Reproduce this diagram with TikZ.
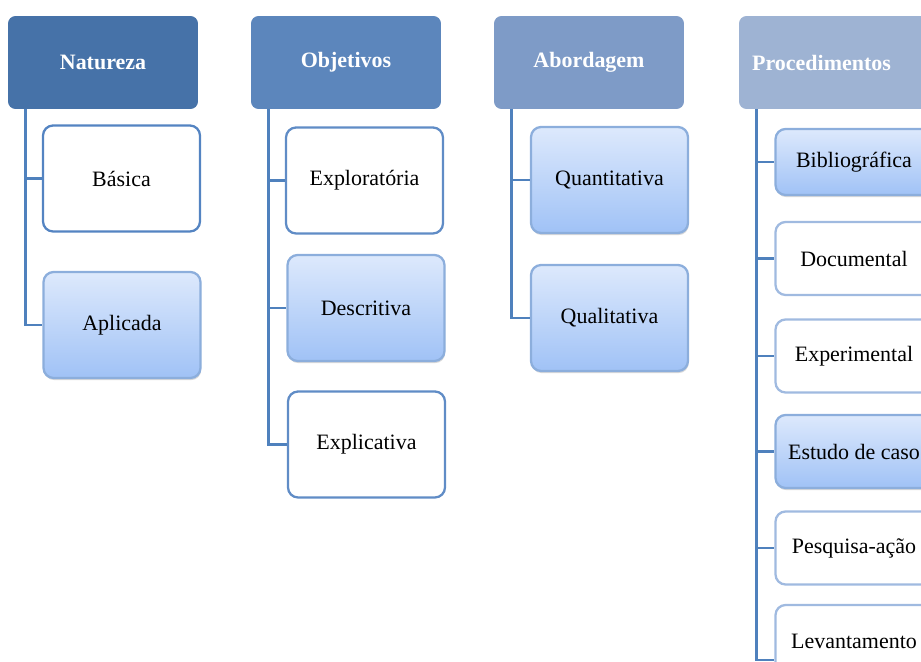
\documentclass[tikz,border=0pt]{standalone}
\usepackage{fontspec}
\setmainfont{Liberation Serif}
\usetikzlibrary{shadows}

\definecolor{linkblue}{RGB}{79,129,189}
\definecolor{headA}{RGB}{70,114,168}
\definecolor{headB}{RGB}{92,134,188}
\definecolor{headC}{RGB}{126,155,199}
\definecolor{headD}{RGB}{158,179,211}
\definecolor{edgeA}{RGB}{84,132,194}
\definecolor{edgeB}{RGB}{96,140,198}
\definecolor{edgeD}{RGB}{160,186,224}
\definecolor{edgeS}{RGB}{140,174,220}
\definecolor{gradtop}{RGB}{221,233,252}
\definecolor{gradbot}{RGB}{160,194,246}

\begin{document}
\begin{tikzpicture}[x=0.02cm, y=-0.02cm,
  head/.style={rectangle, rounded corners=0.15cm, minimum width=3.8cm, minimum height=1.86cm,
    text=white, font=\fontsize{12.5}{15}\selectfont\bfseries},
  leaf/.style={rectangle, draw, rounded corners=0.2cm, line width=1.3pt, minimum width=3.14cm,
    minimum height=2.12cm, fill=white, font=\fontsize{12.5}{15}\selectfont},
  shaded/.style={draw=edgeS, top color=gradtop, bottom color=gradbot,
    drop shadow={shadow xshift=0.4pt, shadow yshift=-1.2pt, opacity=0.3}},
  link/.style={draw=linkblue, line width=1.7pt}]

\useasboundingbox (0,0) rectangle (921,662);
\clip (0,0) rectangle (921,662);

% the four headers
\node[head, fill=headA] (nat) at (103,62.5) {Natureza};
\node[head, fill=headB] (obj) at (346,62.5) {Objetivos};
\node[head, fill=headC] (abo) at (589,62.5) {Abordagem};
\node[head, fill=headD] (pro) at (834,62.5) {Procedimentos\hspace*{0.5cm}};

% Natureza
\node[leaf, draw=edgeA] (bas) at (121.5,178.5) {Básica};
\node[leaf, shaded] (apl) at (122,325) {Aplicada};

% Objetivos
\node[leaf, draw=edgeB] (exr) at (364.5,180.5) {Exploratória};
\node[leaf, shaded] (des) at (366,308) {Descritiva};
\node[leaf, draw=edgeB] (exl) at (366.5,444.5) {Explicativa};

% Abordagem
\node[leaf, shaded] (qua) at (609.5,180) {Quantitativa};
\node[leaf, shaded] (qul) at (609.5,318) {Qualitativa};

% Procedimentos, the shaded ones and then the plain ones
\foreach \n/\y/\h/\t in {bib/162/1.32/Bibliográfica, est/451.5/1.46/Estudo de caso} {
    \node[leaf, shaded, minimum height=\h cm] (\n) at (854,\y) {\t};
}
\foreach \n/\y/\t in {doc/258.5/Documental, exp/356/Experimental, pes/548/Pesquisa-ação, lev/641.5/Levantamento} {
    \node[leaf, draw=edgeD, minimum height=1.46cm] (\n) at (854,\y) {\t};
}

% and the connectors
\foreach \k in {bas,apl} \draw[link] ([xshift=0.36cm]nat.south west) |- (\k.west);
\foreach \k in {exr,des,exl} \draw[link] ([xshift=0.36cm]obj.south west) |- (\k.west);
\foreach \k in {qua,qul} \draw[link] ([xshift=0.36cm]abo.south west) |- (\k.west);
\foreach \k in {bib,doc,exp,est,pes} \draw[link] ([xshift=0.36cm]pro.south west) |- (\k.west);
\draw[link] ([xshift=0.36cm]pro.south west) |- ([yshift=-0.37cm]lev.west);
\end{tikzpicture}
\end{document}
